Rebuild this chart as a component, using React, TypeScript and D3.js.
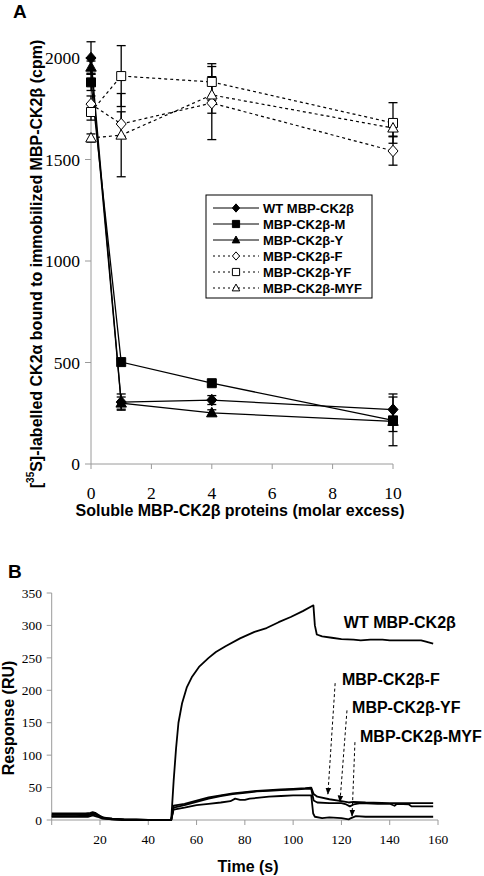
import React from "react";
import * as d3 from "d3";

// ---------- Panel A data ----------
const doses = [0, 1, 4, 10];
const seriesNames = [
  "WT MBP-CK2β",
  "MBP-CK2β-M",
  "MBP-CK2β-Y",
  "MBP-CK2β-F",
  "MBP-CK2β-YF",
  "MBP-CK2β-MYF",
];
const wtMeans = [2000, 305, 315, 268];
const wtErr = [80, 40, 22, 77];
const mMeans = [1880, 502, 398, 215];
const mErr = [40, 0, 10, 55];
const yMeans = [1955, 300, 252, 210];
const yErr = [30, 30, 15, 120];
const fMeans = [1773, 1675, 1778, 1542];
const fErr = [40, 60, 180, 70];
const yfMeans = [1734, 1911, 1882, 1680];
const yfErr = [40, 150, 90, 100];
const myfMeans = [1606, 1620, 1818, 1655];
const myfErr = [20, 205, 90, 40];
const xTicksA = [0, 2, 4, 6, 8, 10];
const yTicksA = [0, 500, 1000, 1500, 2000];

// ---------- Panel B data (time s, response RU) ----------
const wtCurve: [number, number][] = [
  [0, 10], [5, 10], [10, 10], [14, 10], [16, 11], [17, 12], [18, 11], [20, 6], [22, 3], [25, 2],
  [30, 1], [35, 1], [40, 0], [45, 0], [49.5, 0], [50.5, 60], [51.5, 110], [52.5, 150], [54, 180],
  [56, 205], [58, 220], [61, 236], [65, 250], [68, 259], [72, 268], [78, 280], [84, 290], [89, 296],
  [94, 305], [99, 313], [104, 322], [108.4, 331], [109, 300], [109.8, 286], [112, 283], [116, 281],
  [120, 279], [125, 278], [128, 277], [132, 278], [137, 278], [140, 277], [145, 277], [150, 277],
  [153, 277], [155, 275], [158, 272],
];
const fCurve: [number, number][] = [
  [0, 8], [10, 8], [15, 8], [17, 11], [19, 8], [21, 4], [25, 2], [30, 1], [40, 0], [49.5, 0],
  [50.5, 22], [55, 25], [60, 30], [65, 35], [70, 38], [75, 41], [80, 43], [85, 45], [90, 46],
  [95, 47], [100, 48], [105, 49], [107.5, 50], [108.5, 40], [110, 36], [115, 32], [120, 29],
  [123, 27], [125, 28], [130, 27], [140, 26], [150, 26], [158, 26],
];
const yfCurve: [number, number][] = [
  [0, 6], [10, 6], [15, 7], [17, 9], [19, 7], [21, 3], [25, 1], [30, 0], [40, 0], [49.5, 0],
  [50.5, 19], [55, 23], [60, 28], [65, 33], [70, 37], [75, 40], [80, 42], [85, 44], [90, 45],
  [95, 46], [100, 47], [105, 48], [107.5, 48], [108.5, 30], [110, 27], [115, 26], [120, 26],
  [122, 24], [123.5, 21], [125, 24], [128, 26], [135, 25], [140, 25], [142, 22], [143, 25],
  [148, 24], [149, 21], [158, 21],
];
const myfCurve: [number, number][] = [
  [0, 5], [10, 5], [15, 5], [17, 7], [19, 5], [21, 2], [25, 1], [30, 0], [40, 0], [49.5, 0],
  [50.5, 16], [55, 19], [60, 23], [65, 25], [70, 27], [74, 29], [76, 33], [78, 31], [80, 31],
  [82, 33], [85, 34], [90, 36], [95, 37], [100, 38], [105, 38], [107.5, 38], [108.3, 10], [109, 5],
  [112, 3], [115, 4], [120, 3], [123, 1], [124, 3], [126, 6], [130, 5], [140, 5], [158, 5],
];
const xTicksB = [0, 20, 40, 60, 80, 100, 120, 140, 160];
const yTicksB = [0, 50, 100, 150, 200, 250, 300, 350];
const curveLabels = ["WT MBP-CK2β", "MBP-CK2β-F", "MBP-CK2β-YF", "MBP-CK2β-MYF"];
// label anchor [t, RU]
const labelPos: [number, number][] = [[121, 296], [120.2, 208], [124.4, 165], [127.7, 120]];
// arrows [tStart, vStart, tEnd, vEnd]
const arrowPos: [number, number, number, number][] = [
  [117.4, 211, 114.4, 40],
  [122.3, 169, 119.4, 28],
  [125.6, 120, 124.4, 6],
];

const SANS = "'Liberation Sans', Arial, sans-serif";
const SERIF = "'Times New Roman', 'Liberation Serif', 'DejaVu Serif', serif";

type Shape = "diamond" | "square" | "triangle";
function markerPath(shape: Shape, r: number) {
  if (shape === "diamond") return `M0,${-r * 1.15}L${r},0L0,${r * 1.15}L${-r},0Z`;
  if (shape === "square") return `M${-r},${-r}h${2 * r}v${2 * r}h${-2 * r}Z`;
  return `M0,${-r * 1.1}L${r * 1.05},${r * 0.8}L${-r * 1.05},${r * 0.8}Z`;
}

export default function App() {
  const xA = d3.scaleLinear().domain([0, 10]).range([91, 393]);
  const yA = d3.scaleLinear().domain([0, 2000]).range([464, 58]);
  const xB = d3.scaleLinear().domain([0, 160]).range([51.7, 438]);
  const yB = d3.scaleLinear().domain([0, 350]).range([820, 593]);

  const seriesA = [
    { name: seriesNames[0], m: wtMeans, e: wtErr, shape: "diamond" as Shape, filled: true, dashed: false },
    { name: seriesNames[1], m: mMeans, e: mErr, shape: "square" as Shape, filled: true, dashed: false },
    { name: seriesNames[2], m: yMeans, e: yErr, shape: "triangle" as Shape, filled: true, dashed: false },
    { name: seriesNames[3], m: fMeans, e: fErr, shape: "diamond" as Shape, filled: false, dashed: true },
    { name: seriesNames[4], m: yfMeans, e: yfErr, shape: "square" as Shape, filled: false, dashed: true },
    { name: seriesNames[5], m: myfMeans, e: myfErr, shape: "triangle" as Shape, filled: false, dashed: true },
  ];

  const lineA = d3
    .line<number>()
    .x((_, i) => xA(doses[i]))
    .y((d) => yA(d));
  const lineB = d3
    .line<[number, number]>()
    .x((d) => xB(d[0]))
    .y((d) => yB(d[1]));

  const axisGray = "#9a9a9a";
  const serifStyle = { fontFamily: SERIF };

  return (
    <svg
      width={484}
      height={876}
      style={{ position: "absolute", left: 0, top: 0, background: "#fff" }}
      xmlns="http://www.w3.org/2000/svg"
    >
      <defs>
        <marker id="ah" viewBox="0 0 10 10" refX="9" refY="5" markerWidth="7" markerHeight="7" orient="auto">
          <path d="M0,1L10,5L0,9Z" fill="#000" />
        </marker>
      </defs>
      <rect x={0} y={0} width={484} height={876} fill="#fff" />

      {/* ===== Panel A ===== */}
      <text x={13} y={18} fontFamily={SANS} fontWeight="bold" fontSize={19}>A</text>

      {/* axes */}
      <line x1={xA(0)} x2={xA(0)} y1={yA(2000)} y2={yA(0)} stroke={axisGray} strokeWidth={1} />
      <line x1={xA(0)} x2={xA(10)} y1={yA(0)} y2={yA(0)} stroke={axisGray} strokeWidth={1} />
      {yTicksA.map((t) => (
        <g key={"ya" + t}>
          <line x1={xA(0) - 6} x2={xA(0)} y1={yA(t)} y2={yA(t)} stroke={axisGray} />
          <text x={80} y={yA(t)} dy="0.35em" textAnchor="end" style={serifStyle} fontSize={17.5}>
            {t}
          </text>
        </g>
      ))}
      {xTicksA.map((t) => (
        <g key={"xa" + t}>
          <line x1={xA(t)} x2={xA(t)} y1={yA(0)} y2={yA(0) + 5} stroke={axisGray} />
          <text x={xA(t)} y={499} textAnchor="middle" style={serifStyle} fontSize={17.5}>
            {t}
          </text>
        </g>
      ))}
      <text x={240} y={516} textAnchor="middle" fontFamily={SANS} fontWeight="bold" fontSize={16}>
        Soluble MBP-CK2β proteins (molar excess)
      </text>
      <text
        transform="translate(36,264) rotate(-90)"
        textAnchor="middle"
        dominantBaseline="central"
        fontFamily={SANS}
        fontWeight="bold"
        fontSize={16}
      >
        [<tspan fontSize={10} dy={-6}>35</tspan>
        <tspan dy={6}>S]-labelled CK2α bound to immobilized MBP-CK2β (cpm)</tspan>
      </text>

      {/* error bars */}
      {seriesA.map((s, si) =>
        s.m.map((v, i) =>
          s.e[i] > 0 ? (
            <g key={`eb${si}-${i}`} stroke="#000" strokeWidth={1.3}>
              <line x1={xA(doses[i])} x2={xA(doses[i])} y1={yA(v - s.e[i])} y2={yA(v + s.e[i])} />
              <line x1={xA(doses[i]) - 4.5} x2={xA(doses[i]) + 4.5} y1={yA(v + s.e[i])} y2={yA(v + s.e[i])} />
              <line x1={xA(doses[i]) - 4.5} x2={xA(doses[i]) + 4.5} y1={yA(v - s.e[i])} y2={yA(v - s.e[i])} />
            </g>
          ) : null
        )
      )}
      {/* lines */}
      {seriesA.map((s, si) => (
        <path
          key={"la" + si}
          d={lineA(s.m) || ""}
          fill="none"
          stroke="#000"
          strokeWidth={s.dashed ? 1.2 : 1.3}
          strokeDasharray={s.dashed ? "3,3" : undefined}
        />
      ))}
      {/* markers */}
      {seriesA.map((s, si) =>
        s.m.map((v, i) => (
          <path
            key={`mk${si}-${i}`}
            transform={`translate(${xA(doses[i])},${yA(v)})`}
            d={markerPath(s.shape, s.shape === "square" ? 4.5 : 5)}
            fill={s.filled ? "#000" : "#fff"}
            stroke="#000"
            strokeWidth={1}
          />
        ))
      )}

      {/* legend */}
      <rect x={206} y={195} width={166} height={103} fill="#fff" stroke="#000" strokeWidth={1} />
      {seriesA.map((s, si) => {
        const ly = 208 + si * 16;
        return (
          <g key={"lg" + si}>
            <line
              x1={213}
              x2={259}
              y1={ly}
              y2={ly}
              stroke="#000"
              strokeWidth={1}
              strokeDasharray={s.dashed ? "2,3" : undefined}
            />
            <path
              transform={`translate(236,${ly})`}
              d={markerPath(s.shape, 3.6)}
              fill={s.filled ? "#000" : "#fff"}
              stroke="#000"
              strokeWidth={1}
            />
            <text x={263} y={ly} dy="0.36em" fontFamily={SANS} fontWeight="bold" fontSize={13}>
              {s.name}
            </text>
          </g>
        );
      })}

      {/* ===== Panel B ===== */}
      <text x={8} y={578} fontFamily={SANS} fontWeight="bold" fontSize={19}>B</text>

      <line x1={xB(0)} x2={xB(0)} y1={yB(350)} y2={yB(0)} stroke={axisGray} />
      <line x1={xB(0)} x2={xB(160)} y1={yB(0)} y2={yB(0)} stroke={axisGray} />
      {yTicksB.map((t) => (
        <g key={"yb" + t}>
          <line x1={xB(0) - 5} x2={xB(0)} y1={yB(t)} y2={yB(t)} stroke={axisGray} />
          <text x={42} y={yB(t)} dy="0.35em" textAnchor="end" style={serifStyle} fontSize={13.5}>
            {t}
          </text>
        </g>
      ))}
      {xTicksB.map((t) => (
        <g key={"xb" + t}>
          <line x1={xB(t)} x2={xB(t)} y1={yB(0)} y2={yB(0) + 5} stroke={axisGray} />
          {t > 0 ? (
            <text x={xB(t)} y={844} textAnchor="middle" style={serifStyle} fontSize={13.5}>
              {t}
            </text>
          ) : null}
        </g>
      ))}
      <text x={248} y={872} textAnchor="middle" fontFamily={SANS} fontWeight="bold" fontSize={16}>
        Time (s)
      </text>
      <text
        transform="translate(8,718) rotate(-90)"
        textAnchor="middle"
        dominantBaseline="central"
        fontFamily={SANS}
        fontWeight="bold"
        fontSize={16}
      >
        Response (RU)
      </text>

      {[wtCurve, fCurve, yfCurve, myfCurve].map((c, i) => (
        <path key={"cb" + i} d={lineB(c) || ""} fill="none" stroke="#000" strokeWidth={1.8} strokeLinejoin="round" />
      ))}

      {arrowPos.map((a, i) => (
        <line
          key={"ar" + i}
          x1={xB(a[0])}
          y1={yB(a[1])}
          x2={xB(a[2])}
          y2={yB(a[3])}
          stroke="#000"
          strokeWidth={1}
          strokeDasharray="3,2.5"
          markerEnd="url(#ah)"
        />
      ))}
      {curveLabels.map((l, i) => (
        <text key={"cl" + i} x={xB(labelPos[i][0])} y={yB(labelPos[i][1])} fontFamily={SANS} fontWeight="bold" fontSize={16}>
          {l}
        </text>
      ))}
    </svg>
  );
}
